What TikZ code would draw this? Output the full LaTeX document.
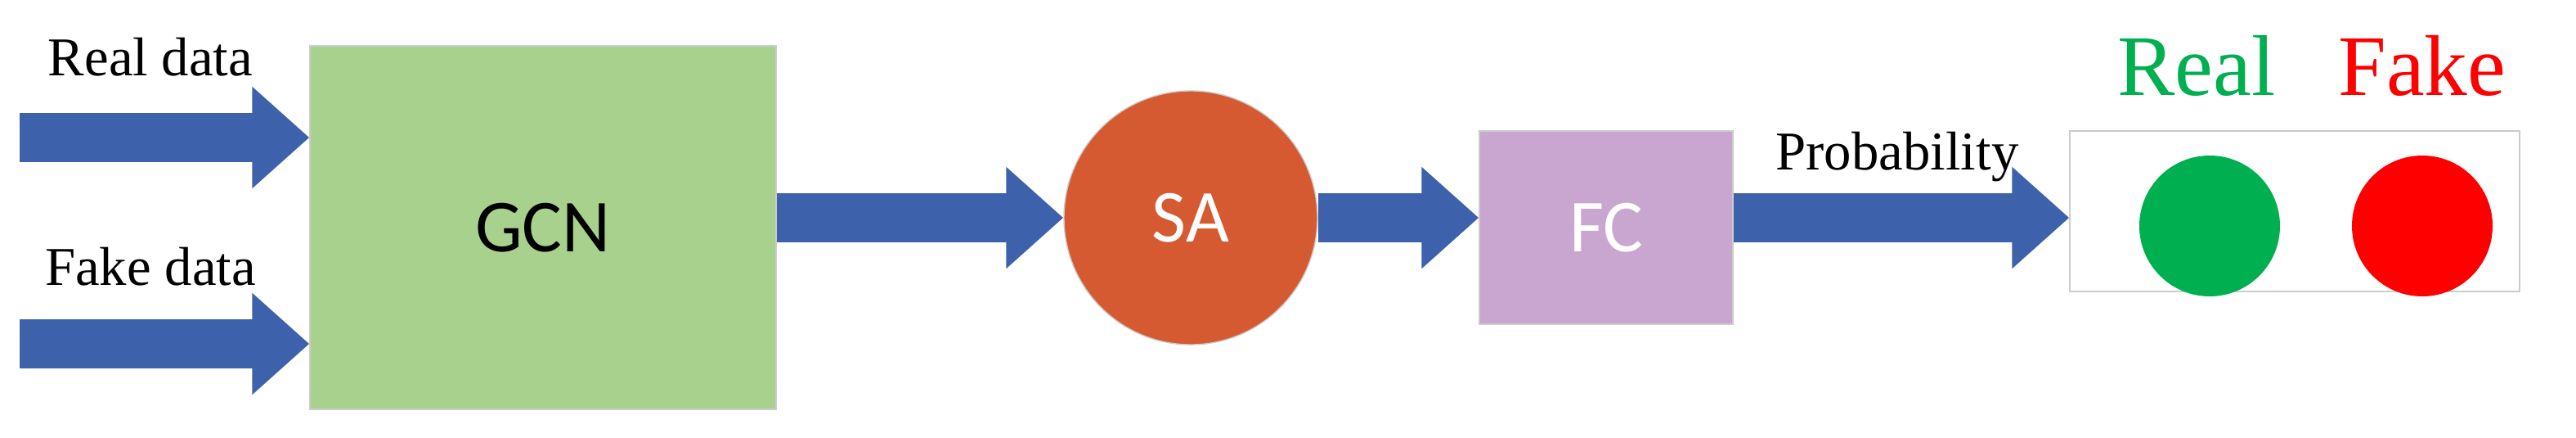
\documentclass[tikz,border=0pt]{standalone}
\usepackage{fontspec}
\setmainfont{Liberation Serif}
\newfontfamily\calib{Carlito}
\usetikzlibrary{arrows.meta}
\definecolor{gcngreen}{HTML}{A9D18E}
\definecolor{saorange}{HTML}{D65A31}
\definecolor{fcpurple}{HTML}{C9A6D0}
\definecolor{arrowblue}{HTML}{3D62AB}
\definecolor{realgreen}{HTML}{00B050}
\tikzset{
  block/.style={draw=gray!40, rectangle, inner sep=0pt, font=\calib\fontsize{26}{30}\selectfont},
  fat/.style={draw=arrowblue!80!black, line width=6mm, arrowblue, -{Triangle[length=7mm 0,width=12mm 0]}, shorten <=0pt},
  lbl/.style={font=\fontsize{19}{22}\selectfont}
}
\begin{document}
\begin{tikzpicture}[x=0.2mm, y=-0.2mm]
  \useasboundingbox (0,0) rectangle (1575,267.5);

  \node (gcn) [block, fill=gcngreen, minimum width=57mm, minimum height=44.4mm] at (332,139) {GCN};
  \node (sa) [circle, draw=gray!40, fill=saorange, minimum size=31mm, text=white, font=\calib\fontsize{26}{30}\selectfont] at (728,133) {SA};
  \node (fc) [block, fill=fcpurple, minimum width=31mm, minimum height=23.6mm, text=white] at (982,139) {FC};
  \node (out) [block, fill=white, minimum width=55mm, minimum height=19.6mm] at (1403,129) {};
  \node (real) [circle, fill=realgreen, minimum size=17.2mm] at (1351,138) {};
  \node (fake) [circle, fill=red, minimum size=17.2mm] at (1481,138) {};
  \node [text=realgreen, font=\fontsize{30}{34}\selectfont] at (1343,40) {Real};
  \node [text=red, font=\fontsize{30}{34}\selectfont] at (1481,40) {Fake};

  \coordinate (rin) at (12,84);
  \coordinate (fin) at (12,210);
  \node [lbl] at (92,35) {Real data};
  \node [lbl] at (92,163) {Fake data};
  \node [lbl] at (1160,96) {Probability};

  % Panah
  \draw [fat] (rin) -- (rin -| gcn.west);
  \draw [fat] (fin) -- (fin -| gcn.west);
  \draw [fat] (gcn.east |- sa) -- (sa.west);
  \draw [fat] (sa.east) -- (fc.west |- sa);
  \draw [fat] (fc.east |- sa) -- (out.west |- sa);
\end{tikzpicture}
\end{document}
